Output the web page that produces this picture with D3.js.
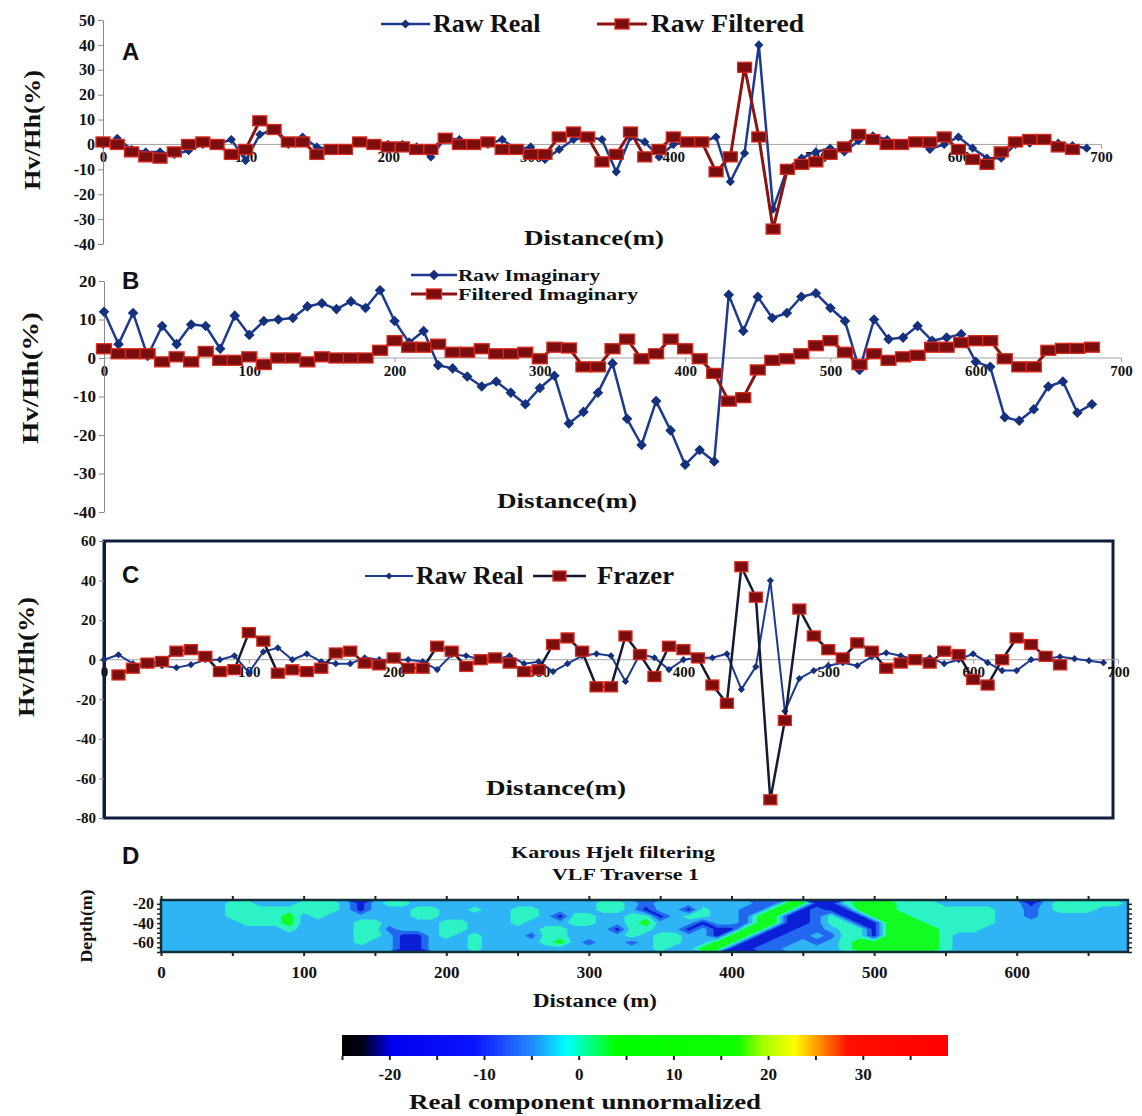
<!DOCTYPE html>
<html lang="en">
<head>
<meta charset="UTF-8">
<title>VLF traverse 1 profiles</title>
<style>
  body { margin: 0; background: #fff; }
  svg text { font-family: "Liberation Serif", "Times New Roman", serif; font-weight: bold; fill: #111; }
</style>
</head>
<body>
<svg id="fig" width="1142" height="1116"></svg>
<script src="https://d3js.org/d3.v7.min.js"></script>
<script>
// ---- data ----
const stationStep = 10;           // metres between readings
const distTicks = [0, 100, 200, 300, 400, 500, 600, 700];

// A / C : raw real component, from 0 m
const rawReal = [0, 2.5, -2, -3, -3, -4, -2.5, 0, 0, 2,
  -6.5, 4, 6, 0, 3, -1, -2, -2, 1, 0,
  0, 0, -1, -5, 2.5, 2, 0, 0, 2, -2,
  -1, -6, -2, 2, 3, 2, -11, 3, 1, -5,
  0, 1, 1, 3, -15, -3.5, 40, -26, -9.5, -5.5,
  -3, -1.5, -3, 1.5, 3.5, 2, 0, 1, -2, 0,
  3, -1.5, -5.5, -5.5, 0, 0.5, 1.5, 0.5, -0.5, -1.5];
// A : raw filtered, from 0 m
const rawFiltered = [1, 0, -3, -5, -5.5, -3, 0, 1, 0, -4,
  -2, 9.5, 6, 1, 1, -4, -2, -2, 1, 0,
  -1, -1, -2, -2, 2.5, 0, 0, 1, -2, -2,
  -4, -4, 3, 5, 3, -7, -4, 5, -5, -2,
  3, 1, 1, -11, -5, 31, 3, -34, -10, -8,
  -7, -4, -1, 4, 2, 0, 0, 1, 1, 3,
  -2, -6, -8, -3, 1, 2, 2, -1, -2];
// B : raw and filtered imaginary, from 0 m
const rawImag = [12, 3.6, 11.7, 0.5, 8.3, 3.6, 8.7, 8.3, 2.4, 11,
  6, 9.6, 10, 10.4, 13.4, 14.2, 12.7, 14.7, 13, 17.6,
  9.6, 4, 7, -1.9, -2.7, -4.8, -7.4, -6.1, -9, -12,
  -7.8, -4.6, -17, -14, -9, -1.4, -15.8, -22.6, -11.2, -18.8,
  -27.7, -23.9, -26.9, 16.4, 7, 15.9, 10.4, 11.7, 15.9, 16.8,
  13, 9.6, -3.1, 10, 4.9, 5.3, 8.3, 4.5, 5.3, 6.2,
  -1, -2.3, -15.4, -16.3, -13.3, -7.4, -6.1, -14.2, -12];
const filtImag = [2.4, 1.1, 1.1, 1.1, -1, 0.3, -1, 1.7, -0.6, -0.6,
  0.3, -1.7, 0, 0, -1, 0.3, 0, 0, 0, 2,
  4.5, 2.8, 2.8, 3.6, 1.5, 1.5, 2.4, 1.1, 1.1, 1.5,
  -0.2, 2.8, 2.6, -2.3, -2.3, 2.4, 4.9, -0.2, 1.1, 4.9,
  2.4, -0.2, -4, -11.2, -10.3, -3.1, -0.6, -0.2, 1.1, 3.2,
  4.5, 1.5, -1.7, 1.1, -0.6, 0.3, 0.7, 2.8, 2.8, 4,
  4.5, 4.5, -0.2, -2.3, -2.3, 2, 2.5, 2.5, 2.8];
// C : Fraser filtered real, from 10 m
const frazerStart = 10;
const frazer = [-7.7, -4.3, -1.7, -0.9, 4.3, 5.1, 1.7, -6, -5,
  13.7, 9.4, -6.8, -5.1, -6, -4.3, 3.4, 4.3, -1.7, -2.6,
  0.9, -4.3, -4.3, 6.8, 4.3, -3.4, 0, 0.9, -1.7, -6,
  -5.1, 7.7, 11, 4.3, -13.7, -13.7, 12, 2.6, -8.5, 6.8,
  5.1, 0.9, -12.8, -22, 47, 31.6, -70.8, -30.7, 25.6, 12,
  5.1, 0.9, 8.5, 4.3, -4.3, -1.7, 0, -1.7, 4.3, 2.6,
  -10, -12.8, 0, 11, 7.7, 1.7, -2.6];

const yTicksA = [50, 40, 30, 20, 10, 0, -10, -20, -30, -40];
const yTicksB = [20, 10, 0, -10, -20, -30, -40];
const yTicksC = [60, 40, 20, 0, -20, -40, -60, -80];

// D : Karous-Hjelt section, one column per 10 m, rows from top to bottom
// k dark blue, b blue, . light blue, c cyan, g green
const khDistStep = 10;
const khDepthTop = -16, khDepthBottom = -70;
const khRows = [
  ".....cc...ccc.k.cc.............cc.b.......bbggkkcgggccc......k.ccccc.",
  ".....cccccccc.k...cc..c..cc....cc.k..kc..bbggkbkkgggccccccc..b.ccc...",
  ".....ccccg.c......cc.....cc.kcc..cck.cc..bggkkbckkgggcccccc..b.......",
  "......cccg....cc....cc...c...cc..cg...k..bggkkbcckkgggccccc..........",
  ".........c....ccb...cc.....cc...kcc..k.kkggkkbb.cckggggccc...........",
  "..............cc.kk.c.c...bcc....c.cc..kggkkbb.bcckggggc.............",
  "..............c..kk...c....cg.b..b.cc..ggkkbb.b.cggggggc.............",
  ".................kk...c............c..ggkkbb....cggggggc............."
];
const khLevel = { k: -15, b: -9, '.': -3, c: 3, g: 10 };
const khThresholds = [-12, -6, 0, 6];
const khDepthTicks = [-20, -40, -60];
const khDistTicks = [0, 100, 200, 300, 400, 500, 600];

// colour bar
const cbValues = [-25, -22.8, -19.8, -11, -7.8, -4.7, -1.3, 1.3, 3.9, 16.8, 19.4, 22.8, 25.4, 28.4, 39];
const cbColors = ['#000000', '#000018', '#0000f0', '#0a14ff', '#1e50ff', '#2090ff', '#00ffff', '#00ff80',
  '#00ff00', '#10ff00', '#a0ff00', '#ffff00', '#ff9000', '#ff1000', '#ff0000'];
const cbLabels = [-20, -10, 0, 10, 20, 30];

// ---- drawing ----
const svg = d3.select('#fig');
const SERIF = '"Liberation Serif", "Times New Roman", serif';
const BLUE = '#1d3a8f', BLUE_MK = '#15307d';
const RED = '#8c1313', RED_MK = '#7a0d0d', RED_EDGE = '#d92a1f';

function styleText(sel, size) {
  sel.style('font-family', SERIF).style('font-weight', 'bold').style('font-size', size + 'px').style('fill', '#111');
}

function drawMarkers(g, pts, s) {
  if (s.marker === 'diamond') {
    g.append('g').selectAll('path').data(pts).join('path')
      .attr('d', d3.symbol(d3.symbolSquare, s.size))
      .attr('transform', d => `translate(${d[0]},${d[1]}) rotate(45)`)
      .attr('fill', s.mk);
  } else {
    g.append('g').selectAll('rect').data(pts).join('rect')
      .attr('x', d => d[0] - s.w / 2).attr('y', d => d[1] - s.h / 2)
      .attr('width', s.w).attr('height', s.h)
      .attr('fill', s.mk).attr('stroke', RED_EDGE).attr('stroke-width', 1.3);
  }
}

function drawProfile(cfg) {
  const g = svg.append('g');
  const x = d3.scaleLinear().domain([0, 700]).range(cfg.xRange);
  const y = d3.scaleLinear().domain(cfg.yDomain).range(cfg.yRange);

  if (cfg.boxRight) {
    g.append('rect')
      .attr('x', x(0)).attr('y', y(cfg.yDomain[1]))
      .attr('width', cfg.boxRight - x(0))
      .attr('height', y(cfg.yDomain[0]) - y(cfg.yDomain[1]))
      .attr('fill', 'none').attr('stroke', '#0f1d3d').attr('stroke-width', 3);
  }

  g.append('line')
    .attr('x1', x(0)).attr('x2', x(700))
    .attr('y1', y(0)).attr('y2', y(0))
    .attr('stroke', '#a3a3a3').attr('stroke-width', 1);

  const xa = g.append('g')
    .attr('transform', `translate(0,${y(0)})`)
    .call(d3.axisBottom(x).tickValues(distTicks).tickSize(4).tickPadding(3).tickFormat(d => d));
  xa.select('.domain').remove();
  xa.selectAll('line').attr('stroke', '#999');
  styleText(xa.selectAll('text'), cfg.xFont);

  const ya = g.append('g')
    .attr('transform', `translate(${x(0)},0)`)
    .call(d3.axisLeft(y).tickValues(cfg.yTicks).tickSize(5).tickSizeOuter(0).tickPadding(3).tickFormat(d => d));
  ya.select('.domain')
    .attr('stroke', cfg.boxRight ? '#0f1d3d' : '#8a8a8a')
    .attr('stroke-width', cfg.boxRight ? 3 : 1);
  ya.selectAll('line').attr('stroke', '#8a8a8a');
  styleText(ya.selectAll('text'), cfg.yFont);

  cfg.series.forEach(s => {
    const pts = s.values.map((v, i) => [s.start + i * stationStep, v]);
    g.append('path').datum(pts)
      .attr('fill', 'none').attr('stroke', s.color).attr('stroke-width', s.width)
      .attr('stroke-linejoin', 'round')
      .attr('d', d3.line().x(d => x(d[0])).y(d => y(d[1])));
    drawMarkers(g, pts.map(d => [x(d[0]), y(d[1])]), s);
  });

  // legend
  cfg.legend.forEach(l => {
    const s = cfg.series[l.i];
    g.append('line').attr('x1', l.x0).attr('x2', l.x1).attr('y1', l.y).attr('y2', l.y)
      .attr('stroke', s.color).attr('stroke-width', s.width);
    drawMarkers(g, [[(l.x0 + l.x1) / 2, l.y]], s);
    const t = g.append('text').attr('x', l.tx).attr('y', l.ty).text(l.label);
    styleText(t, l.font);
    if (l.len) t.attr('textLength', l.len).attr('lengthAdjust', 'spacingAndGlyphs');
  });

  // letter and titles
  g.append('text').attr('x', 122).attr('y', cfg.letterY).text(cfg.letter)
    .style('font-family', '"Liberation Sans", Arial, sans-serif').style('font-weight', 'bold')
    .style('font-size', '24px');
  const yl = g.append('text')
    .attr('transform', `translate(${cfg.yLabel[0]},${cfg.yLabel[1]}) rotate(-90)`)
    .attr('text-anchor', 'middle').attr('dy', '0.35em')
    .attr('textLength', cfg.yLabel[2]).attr('lengthAdjust', 'spacingAndGlyphs')
    .text('Hv/Hh(%)');
  styleText(yl, 24);
  const xl = g.append('text')
    .attr('x', cfg.xLabel[0]).attr('y', cfg.xLabel[1]).attr('text-anchor', 'middle')
    .attr('textLength', 140).attr('lengthAdjust', 'spacingAndGlyphs')
    .text('Distance(m)');
  styleText(xl, 22);
}

// Panel A
drawProfile({
  letter: 'A', letterY: 60,
  xRange: [103, 1101], yDomain: [-40, 50], yRange: [244, 20], yTicks: yTicksA,
  xFont: 15, yFont: 16,
  yLabel: [32, 130, 120], xLabel: [594, 245],
  series: [
    { values: rawReal, start: 0, color: BLUE, width: 2.5, marker: 'diamond', mk: BLUE_MK, size: 42 },
    { values: rawFiltered, start: 0, color: RED, width: 3, marker: 'square', mk: RED_MK, w: 14, h: 10 }
  ],
  legend: [
    { i: 0, x0: 381, x1: 430, y: 24, tx: 433, ty: 32, label: 'Raw Real', font: 26 },
    { i: 1, x0: 597, x1: 647, y: 24, tx: 651, ty: 32, label: 'Raw Filtered', font: 26, len: 153 }
  ]
});

// Panel B
drawProfile({
  letter: 'B', letterY: 289,
  xRange: [104, 1121], yDomain: [-40, 20], yRange: [512, 281], yTicks: yTicksB,
  xFont: 15, yFont: 17,
  yLabel: [30, 378, 132], xLabel: [567, 508],
  series: [
    { values: rawImag, start: 0, color: BLUE, width: 2.5, marker: 'diamond', mk: BLUE_MK, size: 56 },
    { values: filtImag, start: 0, color: RED, width: 3, marker: 'square', mk: RED_MK, w: 15, h: 10 }
  ],
  legend: [
    { i: 0, x0: 411, x1: 457, y: 275, tx: 458, ty: 281, label: 'Raw Imaginary', font: 16, len: 142 },
    { i: 1, x0: 411, x1: 457, y: 294, tx: 458, ty: 300, label: 'Filtered Imaginary', font: 16, len: 180 }
  ]
});

// Panel C
drawProfile({
  letter: 'C', letterY: 583,
  xRange: [104, 1118], yDomain: [-80, 60], yRange: [818, 541], yTicks: yTicksC, boxRight: 1113,
  xFont: 15, yFont: 15,
  yLabel: [26, 657, 120], xLabel: [556, 795],
  series: [
    { values: rawReal, start: 0, color: BLUE, width: 2, marker: 'diamond', mk: BLUE_MK, size: 26 },
    { values: frazer, start: frazerStart, color: '#141a33', width: 2.5, marker: 'square', mk: RED_MK, w: 13, h: 10 }
  ],
  legend: [
    { i: 0, x0: 365, x1: 413, y: 576, tx: 416, ty: 584, label: 'Raw Real', font: 26 },
    { i: 1, x0: 533, x1: 586, y: 576, tx: 597, ty: 584, label: 'Frazer', font: 26, len: 77 }
  ]
});

// Panel D : Karous-Hjelt pseudo-section
(function () {
  const g = svg.append('g');
  const xD = d3.scaleLinear().domain([0, 678]).range([161, 1128]);
  const yD = d3.scaleLinear().domain([khDepthTop, khDepthBottom]).range([900, 952]);
  const nx = khRows[0].length, ny = khRows.length;
  const grid = [];
  khRows.forEach(r => { for (const ch of r) grid.push(khLevel[ch]); });
  const fills = ['#0b1fd6', '#2168ee', '#2fb4f5', '#2cf2c6', '#12fb22'];

  g.append('clipPath').attr('id', 'khclip').append('rect')
    .attr('x', xD(0)).attr('y', yD(khDepthTop))
    .attr('width', xD(678) - xD(0)).attr('height', yD(khDepthBottom) - yD(khDepthTop));

  const proj = d3.geoTransform({
    point(px, py) {
      this.stream.point(xD(px * khDistStep - khDistStep / 2),
        yD(khDepthTop + (khDepthBottom - khDepthTop) * py / ny));
    }
  });
  const path = d3.geoPath(proj);
  const cg = g.append('g').attr('clip-path', 'url(#khclip)');
  cg.append('rect')
    .attr('x', xD(0)).attr('y', yD(khDepthTop))
    .attr('width', xD(678) - xD(0)).attr('height', yD(khDepthBottom) - yD(khDepthTop))
    .attr('fill', fills[0]);
  const bands = d3.contours().size([nx, ny]).smooth(true).thresholds(khThresholds)(grid);
  cg.selectAll('path').data(bands).join('path')
    .attr('d', path).attr('fill', (d, i) => fills[i + 1]);

  g.append('rect')
    .attr('x', xD(0)).attr('y', yD(khDepthTop))
    .attr('width', xD(678) - xD(0)).attr('height', yD(khDepthBottom) - yD(khDepthTop))
    .attr('fill', 'none').attr('stroke', '#10303a').attr('stroke-width', 2.5);

  const minor = d3.range(0, 679, 50);
  const bx = g.append('g').attr('transform', `translate(0,${yD(khDepthBottom)})`)
    .call(d3.axisBottom(xD).tickValues(minor).tickSize(4).tickFormat(d => khDistTicks.includes(d) ? d : ''));
  bx.select('.domain').remove();
  bx.selectAll('line').attr('stroke', '#222').attr('stroke-width', 2);
  styleText(bx.selectAll('text').attr('dy', '1.1em'), 17);
  const tx = g.append('g').attr('transform', `translate(0,${yD(khDepthTop)})`)
    .call(d3.axisTop(xD).tickValues(minor).tickSize(4).tickFormat(''));
  tx.select('.domain').remove();
  tx.selectAll('line').attr('stroke', '#222').attr('stroke-width', 2);

  const depthMinor = d3.range(-20, -71, -5);
  const ly = g.append('g').attr('transform', `translate(${xD(0)},0)`)
    .call(d3.axisLeft(yD).tickValues(depthMinor).tickSize(4).tickSizeOuter(0)
      .tickFormat(d => khDepthTicks.includes(d) ? d : ''));
  ly.select('.domain').remove();
  ly.selectAll('line').attr('stroke', '#222').attr('stroke-width', 1.5);
  styleText(ly.selectAll('text'), 16);
  const ry = g.append('g').attr('transform', `translate(${xD(678)},0)`)
    .call(d3.axisRight(yD).tickValues(depthMinor).tickSize(4).tickSizeOuter(0).tickFormat(''));
  ry.select('.domain').remove();
  ry.selectAll('line').attr('stroke', '#222').attr('stroke-width', 1.5);

  g.append('text').attr('x', 122).attr('y', 864).text('D')
    .style('font-family', '"Liberation Sans", Arial, sans-serif').style('font-weight', 'bold')
    .style('font-size', '24px');
  styleText(g.append('text').attr('x', 511).attr('y', 858).attr('textLength', 204)
    .attr('lengthAdjust', 'spacingAndGlyphs').text('Karous Hjelt filtering'), 17);
  styleText(g.append('text').attr('x', 552).attr('y', 880).attr('textLength', 147)
    .attr('lengthAdjust', 'spacingAndGlyphs').text('VLF Traverse 1'), 17);
  styleText(g.append('text')
    .attr('transform', 'translate(86,926) rotate(-90)').attr('text-anchor', 'middle').attr('dy', '0.35em')
    .attr('textLength', 73).attr('lengthAdjust', 'spacingAndGlyphs').text('Depth(m)'), 16);
  styleText(g.append('text').attr('x', 595).attr('y', 1007).attr('text-anchor', 'middle')
    .attr('textLength', 124).attr('lengthAdjust', 'spacingAndGlyphs').text('Distance (m)'), 18);
})();

// colour bar
(function () {
  const x = d3.scaleLinear().domain([cbValues[0], cbValues[cbValues.length - 1]]).range([342, 948]);
  const grad = svg.append('defs').append('linearGradient').attr('id', 'cbgrad');
  grad.selectAll('stop').data(cbValues).join('stop')
    .attr('offset', d => (d - cbValues[0]) / (cbValues[cbValues.length - 1] - cbValues[0]))
    .attr('stop-color', (d, i) => cbColors[i]);
  svg.append('rect').attr('x', 342).attr('y', 1035).attr('width', 606).attr('height', 21)
    .attr('fill', 'url(#cbgrad)');
  const ax = svg.append('g').attr('transform', 'translate(0,1056)')
    .call(d3.axisBottom(x).tickValues(d3.range(-25, 36, 5)).tickSize(4)
      .tickFormat(d => cbLabels.includes(d) ? d : ''));
  ax.select('.domain').remove();
  ax.selectAll('line').attr('stroke', '#222').attr('stroke-width', 2);
  styleText(ax.selectAll('text').attr('dy', '1.0em'), 17);
  styleText(svg.append('text').attr('x', 585).attr('y', 1109).attr('text-anchor', 'middle')
    .attr('textLength', 352).attr('lengthAdjust', 'spacingAndGlyphs')
    .text('Real component unnormalized'), 21);
})();
</script>
</body>
</html>
